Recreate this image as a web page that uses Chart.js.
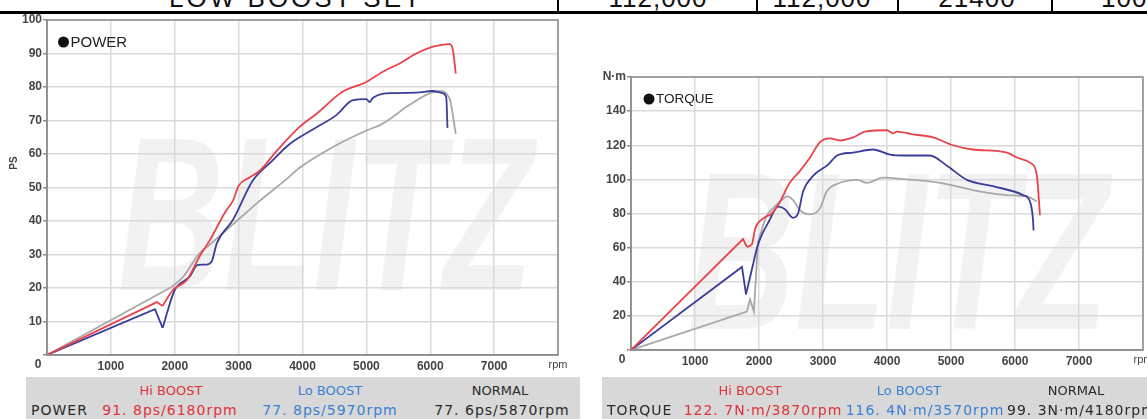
<!DOCTYPE html>
<html lang="ja">
<head>
<meta charset="UTF-8">
<title>BLITZ LOW BOOST SET | Power / Torque</title>
<script src="https://cdn.jsdelivr.net/npm/chart.js"></script>
<style>
  body { margin: 0; width: 1147px; height: 419px; overflow: hidden; position: relative; background: #fff; font-family: "DejaVu Sans", sans-serif; }
  canvas { position: absolute; top: 0; }
  #powerChart { left: 0; }
  #torqueChart { left: 580px; }
  .spec { position: absolute; left: 0; top: 0; width: 1147px; height: 14px; overflow: hidden; border-bottom: 3px solid #000; box-sizing: border-box; background: #fff; z-index: 2; }
  .spec span { position: absolute; top: -15px; font: 26px/26px "Liberation Sans", sans-serif; letter-spacing: 3px; color: #111; transform: translateX(-50%); white-space: nowrap; }
  .spec i { position: absolute; top: 0; width: 2px; height: 11px; background: #000; }
  .band { position: absolute; top: 377px; height: 42px; background: #d8d8d8; }
  .t { position: absolute; white-space: nowrap; transform: translateX(-50%); }
  .h { top: 384px; font-size: 13px; line-height: 13px; }
  .v { top: 403px; font-size: 14px; line-height: 14px; letter-spacing: 1px; }
  .hi { color: #e0333b; }
  .lo { color: #3a80d4; }
  .nm { color: #2a2a2a; }
</style>
</head>
<body>
<div class="spec">
  <span style="left:296px">LOW BOOST SET</span>
  <i style="left:557px"></i>
  <span style="left:658px;letter-spacing:1px">112,000</span>
  <i style="left:756px"></i>
  <span style="left:822px;letter-spacing:1px">112,000</span>
  <i style="left:897px"></i>
  <span style="left:977px;letter-spacing:1px">21400</span>
  <i style="left:1051px"></i>
  <span style="left:1101px;transform:none;letter-spacing:1px">100000</span>
</div>

<canvas id="powerChart" width="580" height="378"></canvas>
<canvas id="torqueChart" width="567" height="378"></canvas>

<div class="band" style="left:26px;width:554px"></div>
<div class="band" style="left:602px;width:545px"></div>

<div class="t h hi" style="left:171px">Hi BOOST</div>
<div class="t h lo" style="left:330px">Lo BOOST</div>
<div class="t h nm" style="left:500px">NORMAL</div>
<div class="t v nm" style="left:31px;transform:none">POWER</div>
<div class="t v hi" style="left:170px">91. 8ps/6180rpm</div>
<div class="t v lo" style="left:330px">77. 8ps/5970rpm</div>
<div class="t v nm" style="left:502px">77. 6ps/5870rpm</div>

<div class="t h hi" style="left:750px">Hi BOOST</div>
<div class="t h lo" style="left:909px">Lo BOOST</div>
<div class="t h nm" style="left:1076px">NORMAL</div>
<div class="t v nm" style="left:607px;transform:none">TORQUE</div>
<div class="t v hi" style="left:763px">122. 7N·m/3870rpm</div>
<div class="t v lo" style="left:925px">116. 4N·m/3570rpm</div>
<div class="t v nm" style="left:1007px;transform:none">99. 3N·m/4180rpm</div>

<script>
// ---- power (PS) ----
const powerHiRpm = [0, 1720, 1810, 1970, 2190, 2390, 2550, 2800, 2910, 3000, 3170, 3330, 3600, 3950, 4220, 4620, 5000, 5100, 5300, 5520, 5780, 6030, 6180, 6300, 6350, 6400];
const powerHiPs  = [0, 15.8, 14.6, 19.4, 22.4, 29.5, 34.3, 43, 46, 50.5, 53, 55, 61, 68, 72, 78.5, 81.5, 82.7, 85, 87, 90, 92, 92.6, 92.8, 91.5, 84];

const powerLoRpm = [0, 1690, 1810, 2000, 2230, 2360, 2500, 2580, 2660, 2910, 3220, 3500, 3800, 4220, 4530, 4780, 5000, 5050, 5100, 5410, 5780, 6030, 6190, 6250, 6270];
const powerLoPs  = [0, 13.7, 8.1, 19.4, 23.3, 26.9, 27, 28, 33.4, 40.3, 52, 57.5, 63, 68, 71.6, 76, 76.4, 75.5, 76.7, 78.2, 78.3, 78.8, 78.2, 77, 67.8];

const powerNormalRpm = [0, 1950, 2125, 2390, 2550, 2910, 3330, 3750, 3950, 4470, 5000, 5250, 5670, 5980, 6140, 6300, 6400];
const powerNormalPs  = [0, 20.3, 23.2, 30.4, 33, 39, 46, 52.5, 55.8, 62, 67, 69, 74.6, 78, 78.8, 76.7, 66];

// ---- torque (N·m) ----
const torqueHiRpm = [0, 1750, 1810, 1890, 1940, 2060, 2200, 2330, 2480, 2640, 2800, 2950, 3110, 3265, 3470, 3656, 4000, 4094, 4156, 4406, 4720, 5030, 5340, 5875, 6030, 6234, 6340, 6390];
const torqueHiNm  = [0, 65, 60.5, 62, 71, 77, 80, 87, 98, 105, 113, 121.7, 124, 122.8, 124.6, 128, 128.8, 127, 128, 126.4, 124.6, 120, 117.5, 115.7, 112.8, 109.8, 102.7, 79];

const torqueLoRpm = [0, 1734, 1797, 1906, 1970, 2050, 2150, 2300, 2406, 2531, 2610, 2690, 2844, 3080, 3220, 3470, 3780, 4047, 4250, 4670, 4937, 5250, 5656, 6125, 6234, 6280, 6290];
const torqueLoNm  = [0, 48.7, 32.6, 50, 60, 68, 75, 84, 82.5, 77.5, 80, 93, 102, 108.6, 114, 115.7, 117.5, 114.5, 114, 114, 108, 99.7, 96, 90.8, 87, 77, 70];

const torqueNormalRpm = [0, 1810, 1860, 1920, 1984, 2125, 2220, 2330, 2440, 2530, 2640, 2800, 2953, 3060, 3265, 3530, 3690, 3937, 4310, 4830, 5450, 5875, 6190, 6340];
const torqueNormalNm  = [0, 22.5, 29.7, 22.5, 63.5, 79, 83, 87, 90, 88, 82, 79.5, 83, 93, 98, 99.7, 98, 101, 100, 98, 93, 90.8, 90, 87];

const rpmTicks = 1000;
const rpmMax = 8000;

const RED = '#e8434b', BLUE = '#3b3d9a', GRAY = '#a8a8a8';

// straight ramp up to index k (the low-rpm sweep), smooth curve after it
function series(xs, ys, color, k) {
  const p = xs.map((x, i) => ({ x: x, y: ys[i] }));
  const base = { borderColor: color, borderWidth: 1.8, pointRadius: 0, showLine: true, fill: false };
  return [
    Object.assign({ data: p.slice(0, k + 1), tension: 0 }, base),
    Object.assign({ data: p.slice(k), cubicInterpolationMode: 'monotone' }, base)
  ];
}

// watermark, frame, legend dot and the odd axis labels
const decor = {
  id: 'decor',
  beforeDraw(chart, args, o) {
    const ctx = chart.ctx;
    ctx.save();
    ctx.font = 'italic bold 100px "Liberation Sans"';
    const w = ctx.measureText('BLITZ').width;
    ctx.translate(o.wm.x, o.wm.y + o.wm.h);
    ctx.scale(o.wm.w / w, o.wm.h / 72);
    ctx.fillStyle = 'rgba(0,0,0,0.05)';
    ctx.textBaseline = 'alphabetic';
    ctx.fillText('BLITZ', 0, 0);
    ctx.restore();
  },
  afterDraw(chart, args, o) {
    const ctx = chart.ctx, a = chart.chartArea;
    ctx.save();
    ctx.strokeStyle = '#8c8c8c';
    ctx.lineWidth = 1.5;
    ctx.strokeRect(a.left, a.top, a.right - a.left, a.bottom - a.top);

    // legend
    ctx.fillStyle = '#111';
    ctx.beginPath();
    ctx.arc(o.legend.x, o.legend.y, 5.5, 0, Math.PI * 2);
    ctx.fill();
    ctx.font = o.legend.size + 'px "Liberation Sans"';
    ctx.textBaseline = 'middle';
    ctx.textAlign = 'left';
    ctx.fillStyle = '#222';
    ctx.fillText(o.legend.text, o.legend.x + 7, o.legend.y + 0.5);

    // "0" under the corner and "rpm" at the end of the x axis
    const ly = a.bottom + o.labelDy;
    ctx.textAlign = 'center';
    ctx.fillStyle = '#444';
    ctx.font = 'bold 12px "Liberation Sans"';
    ctx.fillText('0', a.left - 9, ly);
    ctx.font = '11px "Liberation Sans"';
    ctx.fillText('rpm', a.right, ly);

    if (o.unit) {
      ctx.translate(o.unit.x, o.unit.y);
      ctx.rotate(-Math.PI / 2);
      ctx.font = 'bold 10px "Liberation Sans"';
      ctx.fillText(o.unit.text, 0, 0);
    }
    ctx.restore();
  }
};

function makeChart(id, cfg) {
  return new Chart(document.getElementById(id), {
    type: 'scatter',
    data: { datasets: cfg.datasets },
    options: {
      responsive: false,
      animation: false,
      devicePixelRatio: 1,
      layout: { padding: cfg.padding },
      plugins: { legend: { display: false }, tooltip: { enabled: false }, decor: cfg.decor },
      scales: {
        x: {
          type: 'linear', min: 0, max: rpmMax,
          afterFit: s => { s.height = cfg.xHeight; },
          ticks: {
            stepSize: rpmTicks, padding: cfg.xPad, color: '#444',
            font: { family: 'Liberation Sans', size: 12, weight: 'bold' },
            callback: v => (v === 0 || v === rpmMax) ? '' : v
          },
          grid: { color: '#dadada', lineWidth: 1.5, drawTicks: false },
          border: { color: '#8c8c8c', width: 1.5 }
        },
        y: {
          min: 0, max: cfg.yMax,
          afterFit: s => { s.width = cfg.yWidth; },
          ticks: {
            stepSize: cfg.yStep, padding: 1, color: '#444',
            font: { family: 'Liberation Sans', size: 12, weight: 'bold' },
            callback: cfg.yLabel
          },
          grid: { color: '#dadada', lineWidth: 1.5, tickLength: 4, tickColor: '#8c8c8c' },
          border: { color: '#8c8c8c', width: 1.5 }
        }
      }
    },
    plugins: [decor]
  });
}

makeChart('powerChart', {
  datasets: [].concat(
    series(powerHiRpm, powerHiPs, RED, 2),
    series(powerLoRpm, powerLoPs, BLUE, 2),
    series(powerNormalRpm, powerNormalPs, GRAY, 1)
  ),
  padding: { left: 0, top: 20, right: 22, bottom: 0 },
  xHeight: 23, xPad: 4, yWidth: 47,
  yMax: 100, yStep: 10,
  yLabel: v => v === 0 ? '' : v,
  decor: {
    wm: { x: 118, y: 132, w: 415, h: 158 },
    legend: { x: 63.5, y: 42, text: 'POWER', size: 15 },
    unit: { x: 14, y: 163, text: 'PS' },
    labelDy: 10
  }
});

makeChart('torqueChart', {
  datasets: [].concat(
    series(torqueHiRpm, torqueHiNm, RED, 2),
    series(torqueLoRpm, torqueLoNm, BLUE, 2),
    series(torqueNormalRpm, torqueNormalNm, GRAY, 4)
  ),
  padding: { left: 0, top: 77, right: 4, bottom: 0 },
  xHeight: 28, xPad: 4, yWidth: 51,
  yMax: 160, yStep: 20,
  yLabel: v => v === 0 ? '' : (v === 160 ? 'N·m' : v),
  decor: {
    wm: { x: 108, y: 167, w: 420, h: 162 },
    legend: { x: 69, y: 99, text: 'TORQUE', size: 13.5 },
    unit: null,
    labelDy: 10
  }
});
</script>
</body>
</html>
